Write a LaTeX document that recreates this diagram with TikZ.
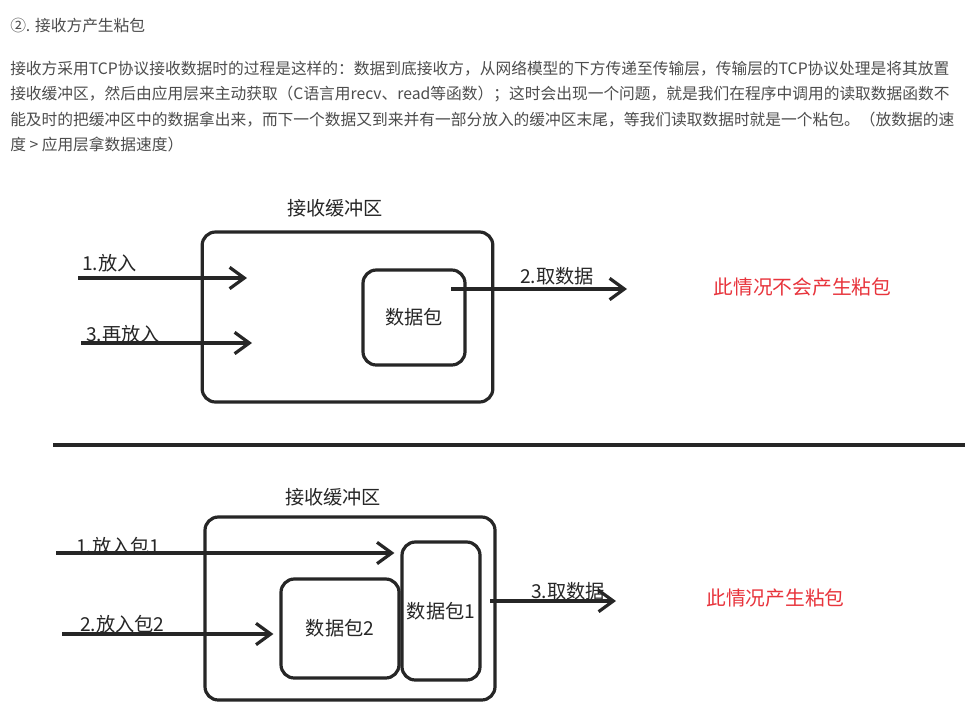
\documentclass[tikz,border=0pt]{standalone}
\usepackage{fontspec}
\setmainfont{Noto Sans CJK SC}
\usetikzlibrary{positioning,arrows.meta}
\definecolor{paraCol}{HTML}{4D4D4D}
\definecolor{inkCol}{HTML}{262626}
\definecolor{noteCol}{HTML}{E8343C}

\begin{document}
\begin{tikzpicture}[
    x=0.75pt, y=-0.75pt,
    >={Straight Barb[length=11pt,width=16pt]},
    para/.style={anchor=base west, inner sep=0pt, text=paraCol,
      font=\fontsize{11.8}{14}\selectfont},
    lab/.style={anchor=base west, inner sep=0pt, text=inkCol,
      font=\fontsize{14.4}{16}\selectfont},
    note/.style={inner sep=0pt, text=noteCol, font=\fontsize{14.8}{16}\selectfont},
    buf/.style={draw=inkCol, line width=2.4pt, rounded corners=10pt},
    pkt/.style={buf, inner sep=0pt, align=center, text=inkCol,
      font=\fontsize{14.4}{16}\selectfont},
    arr/.style={->, draw=inkCol, line width=2.4pt},
  ]
\path[use as bounding box, fill=white] (0,0) rectangle (980,711);

% Heading and paragraph
\node[para] (head) at (10,31) {②. 接收方产生粘包};
\node[para] (line1) at (10,74) {接收方采用TCP协议接收数据时的过程是这样的：数据到底接收方，从网络模型的下方传递至传输层，传输层的TCP协议处理是将其放置};
\node[para] (line2) at (10,99.5) {接收缓冲区，然后由应用层来主动获取（C语言用recv、read等函数）；这时会出现一个问题，就是我们在程序中调用的读取数据函数不};
\node[para] (line3) at (10,125) {能及时的把缓冲区中的数据拿出来，而下一个数据又到来并有一部分放入的缓冲区末尾，等我们读取数据时就是一个粘包。（放数据的速};
\node[para] (line4) at (10,150.5) {度 > 应用层拿数据速度）};

% Case 1: read in time, no sticking
\node[lab, anchor=base] (titleA) at (335,215) {接收缓冲区};
\node[buf, minimum width=218pt, minimum height=127.5pt] (bufA) at (347.5,317) {};
\node[pkt, minimum width=76.5pt, minimum height=71.25pt] (pktA) at (414,317.5) {数据包};

\coordinate (srcA1) at (78,278);
\coordinate (dstA1) at (247,278);
\coordinate (srcA3) at (81,343);
\coordinate (dstA3) at (252,343);
\coordinate (getA) at (451,289);
\coordinate (outA) at (627,289);
\draw[arr] (srcA1) -- (dstA1);
\draw[arr] (srcA3) -- (dstA3);
\draw[arr] (getA) -- (outA);
\node[lab] (putA1) at (82,270) {1.放入};
\node[lab] (putA3) at (86,341) {3.再放入};
\node[lab] (takeA) at (520,283) {2.取数据};
\node[note] (noteA) at (802.5,287) {此情况不会产生粘包};

% Divider
\coordinate (sepL) at (53,445);
\coordinate (sepR) at (965,445);
\draw[draw=inkCol, line width=2.4pt] (sepL) -- (sepR);

% Case 2: second packet lands behind the first
\node[lab, anchor=base] (titleB) at (333,504) {接收缓冲区};
\node[buf, minimum width=217.5pt, minimum height=137.25pt] (bufB) at (350,608.5) {};
\node[pkt, minimum width=88.5pt, minimum height=74.25pt] (pktB2) at (340,628.5) {数据包2};
\node[pkt, minimum width=58.5pt, minimum height=103.5pt] (pktB1) at (441,611) {数据包1};

\coordinate (srcB1) at (56,553);
\coordinate (srcB2) at (62,634);
\coordinate (getB) at (490,601);
\coordinate (outB) at (616,601);
\draw[arr, shorten >=4.5pt] (srcB1) -- (pktB1.west |- srcB1);
\draw[arr, shorten >=4.5pt] (srcB2) -- (pktB2.west |- srcB2);
\draw[arr] (getB) -- (outB);
\node[lab] (putB1) at (76,553) {1.放入包1};
\node[lab] (putB2) at (80,631) {2.放入包2};
\node[lab] (takeB) at (531,598) {3.取数据};
\node[note] (noteB) at (775.5,598) {此情况产生粘包};

\end{tikzpicture}
\end{document}
